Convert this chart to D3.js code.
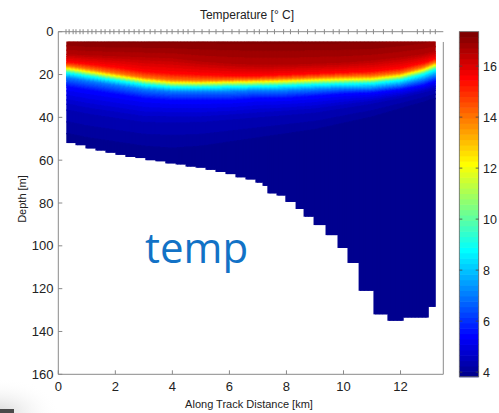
<!DOCTYPE html>
<html><head><meta charset="utf-8">
<script src="https://cdn.jsdelivr.net/npm/d3@7"></script>
<style>
body{margin:0;background:#fff;overflow:hidden}
text{font-family:"Liberation Sans",Arial,Helvetica,sans-serif;fill:#222}
</style>
</head><body>
<svg id="chart" width="499" height="413"></svg>
<script>
// ---------------- data ----------------
// knot columns along track (km) where isotherm depths were read
const colKm       = [0.28, 1, 2, 3, 4, 5, 6, 7, 8, 9, 10, 11, 12, 12.8, 13.23];
const surfaceTemp = [17.1, 17.2, 17.2, 17.2, 17.2, 17.2, 17.2, 17.2, 17.2, 17.2, 17.2, 17.2, 17.1, 17.0, 16.9];
// isotherm temperatures (deg C) and their depths (m) at each knot column
const isoLevels = [16.5, 15.5, 14, 12.3, 9, 7, 5.5, 4.5, 4.0];
const iso165 = [10.5, 11, 11.5, 12, 12.5, 14, 15, 15.5, 15.5, 15, 14.5, 13.5, 12, 10.5, 9];
const iso155 = [14, 15, 16.5, 18.5, 19.5, 20, 20.5, 20.5, 20, 19.5, 19, 18.5, 17, 14.5, 12.5];
const iso140 = [15.8, 17.2, 19.3, 21.3, 22.5, 22.7, 22.5, 22.2, 21.8, 21.3, 20.8, 20.6, 19.3, 16.6, 14.2];
const iso123 = [17, 18.5, 20.5, 22.5, 23.7, 23.8, 23.5, 23.3, 23, 22.5, 22.2, 22, 20.5, 17.8, 15.4];
const iso90  = [19, 20.5, 22.5, 24.5, 25.7, 25.8, 25.5, 25.3, 25, 24.5, 24.2, 24, 22.5, 19.8, 17.5];
const iso70  = [21.5, 23, 25, 27, 28, 28, 28, 27.5, 27.5, 27, 26.5, 26.5, 25, 22.5, 20.5];
const iso55  = [25.5, 27, 29, 31, 32, 32, 32, 31, 31, 30, 29, 28.5, 27, 25, 23];
const iso45  = [35, 37, 39, 41, 41, 41, 40, 39, 38, 37, 35, 33, 30.5, 28, 26.5];
const iso40  = [48, 50, 52, 54, 55, 54, 52, 50, 48, 46, 43, 40, 36, 33, 31];
const topDepth = 4.6;
// bottom of the sampled section (staircase): column edges (km) and bottom depth (m)
const bottomEdgesKm = [0.28, 0.60, 0.95, 1.30, 1.65, 2.00, 2.35, 2.70, 3.05, 3.40, 3.75, 4.11, 4.46, 4.81, 5.16, 5.51, 5.86, 6.21, 6.56, 6.91, 7.16, 7.33, 7.65, 7.96, 8.32, 8.60, 8.95, 9.37, 9.79, 10.14, 10.53, 11.05, 11.54, 12.07, 12.95, 13.23];
const bottomDepth   = [52, 53, 54.5, 55.5, 56.5, 57.5, 58.5, 59, 60, 60.5, 61.5, 62, 63, 63.5, 64.5, 65.5, 66.5, 68, 69, 70.5, 72, 75.5, 76.5, 79.5, 82.8, 86.4, 90.3, 95, 101, 108, 121, 132, 135, 133.5, 128.5];
// station marks along the top axis (km)
const stationKm = [0.27, 0.38, 0.52, 0.62, 0.76, 0.87, 1.04, 1.18, 1.32, 1.50, 1.64, 1.81, 1.95, 2.13, 2.31, 2.48, 2.66, 2.83, 3.01, 3.22, 3.39, 3.60, 3.81, 3.99, 4.20, 4.38, 4.55, 4.76, 5.04, 5.29, 5.53, 5.78, 6.09, 6.34, 6.62, 6.87, 7.05, 7.33, 7.58, 7.90, 8.14, 8.42, 8.74, 9.01, 9.33, 9.64, 9.85, 10.17, 10.48, 10.80, 11.05, 11.40, 11.71, 12.06, 12.59, 12.80, 13.04, 13.22];
const xTicks = [0, 2, 4, 6, 8, 10, 12];
const yTicks = [0, 20, 40, 60, 80, 100, 120, 140, 160];
const cbarTicks = [4, 6, 8, 10, 12, 14, 16];
const cbarDomain = [3.82, 17.35];

// ---------------- colormap (MATLAB jet, 64 levels) ----------------
function jet64(){
  const u=[];
  for(let j=1;j<=16;j++) u.push(j/16);
  for(let j=0;j<15;j++) u.push(1);
  for(let j=16;j>=1;j--) u.push(j/16);
  const out=[];
  for(let k=1;k<=64;k++){
    const g=(k-8>=1&&k-8<=47)?u[k-9]:0;
    const r=(k-24>=1&&k-24<=47)?u[k-25]:0;
    const b=(k+8>=1&&k+8<=47)?u[k+7]:0;
    out.push(d3.rgb(r*255,g*255,b*255).formatHex());
  }
  return out;
}
const jet = jet64();
const color = d3.scaleQuantize().domain(cbarDomain).range(jet);

// ---------------- layout ----------------
const svg = d3.select('#chart');
const x = d3.scaleLinear().domain([0, 13.5]).range([58.3, 443.3]);
const y = d3.scaleLinear().domain([0, 160]).range([31.7, 374.3]);
const yc = d3.scaleLinear().domain(cbarDomain).range([376.7, 31.7]);
const cbX0 = 459.3, cbX1 = 478.7;

// faint screen-capture shading in the lower left corner
const defs = svg.append('defs');
const rg = defs.append('radialGradient').attr('id','shade').attr('cx','0').attr('cy','1').attr('r','1');
rg.append('stop').attr('offset','0').attr('stop-color','#d8d8d8');
rg.append('stop').attr('offset','1').attr('stop-color','#ffffff').attr('stop-opacity',0);
svg.append('rect').attr('x',0).attr('y',378).attr('width',60).attr('height',35).attr('fill','url(#shade)');
svg.append('rect').attr('x',0).attr('y',409).attr('width',14).attr('height',4).attr('fill','#4a4a4a');

// ---------------- field ----------------
const isoDepths = [iso165, iso155, iso140, iso123, iso90, iso70, iso55, iso45, iso40];
const isoScales = isoDepths.map(a => d3.scaleLinear().domain(colKm).range(a));
const surfScale = d3.scaleLinear().domain(colKm).range(surfaceTemp);
const cells = [];
const dz = 0.25;
for (let i=0;i<bottomDepth.length;i++){
  const x0=bottomEdgesKm[i], x1=bottomEdgesKm[i+1];
  const n=Math.max(1,Math.ceil((x1-x0)/0.05));
  const bot=bottomDepth[i];
  for (let s=0;s<n;s++){
    const a=x0+(x1-x0)*s/n, b=x0+(x1-x0)*(s+1)/n, c=(a+b)/2;
    const prof=d3.scaleLinear().domain([topDepth, ...isoScales.map(f=>f(c))])
      .range([surfScale(c), ...isoLevels]).clamp(true);
    const nz=Math.ceil((bot-topDepth)/dz);
    let start=topDepth, cur=null;
    for (let k=0;k<nz;k++){
      const d0=topDepth+k*dz, d1=Math.min(bot,d0+dz);
      const col=color(prof((d0+d1)/2));
      if (cur===null){cur=col;start=d0;}
      else if (col!==cur){cells.push({x0:a,x1:b,d0:start,d1:d0,c:cur,last:false});cur=col;start=d0;}
    }
    cells.push({x0:a,x1:b,d0:start,d1:bot,c:cur,last:true});
  }
}
const lastEdge = bottomEdgesKm[bottomEdgesKm.length-1];
svg.append('g').selectAll('rect').data(cells).join('rect')
  .attr('x',d=>x(d.x0))
  .attr('width',d=>x(d.x1)-x(d.x0)+(d.x1<lastEdge-1e-9?1.2:0))
  .attr('y',d=>y(d.d0))
  .attr('height',d=>y(d.d1)-y(d.d0)+(d.last?0:1.2))
  .attr('fill',d=>d.c);

// ---------------- axes ----------------
const axC = '#8a8a8a';
const ax = svg.append('g').attr('stroke',axC).attr('stroke-width',1).attr('fill','none');
ax.append('line').attr('x1',x(0)).attr('x2',x(0)).attr('y1',y(0)).attr('y2',y(160));
ax.append('line').attr('x1',x(0)).attr('x2',x(13.5)).attr('y1',y(160)).attr('y2',y(160));
ax.append('line').attr('x1',x(0)).attr('x2',x(13.5)).attr('y1',y(0)).attr('y2',y(0));
ax.append('line').attr('x1',x(13.5)).attr('x2',x(13.5)).attr('y1',y(4.8)).attr('y2',y(160));
// station ticks on top
ax.selectAll('.st').data(stationKm).join('line')
  .attr('x1',d=>x(d)).attr('x2',d=>x(d)).attr('y1',y(0)-2.5).attr('y2',y(0)+2.5);
// bottom x ticks (inward)
ax.selectAll('.xt').data(xTicks).join('line')
  .attr('x1',d=>x(d)).attr('x2',d=>x(d)).attr('y1',y(160)).attr('y2',y(160)-4);
// left y ticks (inward)
ax.selectAll('.yt').data(yTicks).join('line')
  .attr('x1',x(0)).attr('x2',x(0)+4).attr('y1',d=>y(d)).attr('y2',d=>y(d));

svg.append('g').selectAll('text').data(xTicks).join('text')
  .attr('x',d=>x(d)).attr('y',390.5).attr('text-anchor','middle')
  .style('font-size','13px').text(d=>d);
svg.append('g').selectAll('text').data(yTicks).join('text')
  .attr('x',53.5).attr('y',d=>y(d)+4.6).attr('text-anchor','end')
  .style('font-size','13px').text(d=>d);

svg.append('text').attr('x',247).attr('y',19).attr('text-anchor','middle')
  .style('font-size','12px').text('Temperature [° C]');
svg.append('text').attr('x',249).attr('y',407.5).attr('text-anchor','middle')
  .style('font-size','11px').text('Along Track Distance [km]');
svg.append('text').attr('transform','translate(26,199) rotate(-90)').attr('text-anchor','middle')
  .style('font-size','11px').text('Depth [m]');

// ---------------- colorbar ----------------
const step=(cbarDomain[1]-cbarDomain[0])/64;
const cbData=jet.map((c,i)=>({c, v0:cbarDomain[0]+i*step, v1:cbarDomain[0]+(i+1)*step}));
svg.append('g').selectAll('rect').data(cbData).join('rect')
  .attr('x',cbX0).attr('width',cbX1-cbX0)
  .attr('y',d=>yc(d.v1)).attr('height',d=>yc(d.v0)-yc(d.v1)+0.6)
  .attr('fill',d=>d.c);
svg.append('rect').attr('x',cbX0).attr('y',yc(cbarDomain[1])).attr('width',cbX1-cbX0)
  .attr('height',yc(cbarDomain[0])-yc(cbarDomain[1])).attr('fill','none').attr('stroke','#666').attr('stroke-width',0.8);
const cbt=svg.append('g').attr('stroke','#444').attr('stroke-width',0.8);
cbt.selectAll('.l').data(cbarTicks).join('line').attr('x1',cbX0).attr('x2',cbX0+3).attr('y1',d=>yc(d)).attr('y2',d=>yc(d));
cbt.selectAll('.r').data(cbarTicks).join('line').attr('x1',cbX1-3).attr('x2',cbX1).attr('y1',d=>yc(d)).attr('y2',d=>yc(d));
svg.append('g').selectAll('text').data(cbarTicks).join('text')
  .attr('x',483).attr('y',d=>yc(d)+4.5).style('font-size','12.5px').text(d=>d);

// ---------------- overlay label ----------------
svg.append('text').attr('x',145).attr('y',263)
  .style('font-family','"Open Sans",sans-serif').style('font-size','42px').style('fill','#1272c6')
  .text('temp');
</script>
</body></html>
